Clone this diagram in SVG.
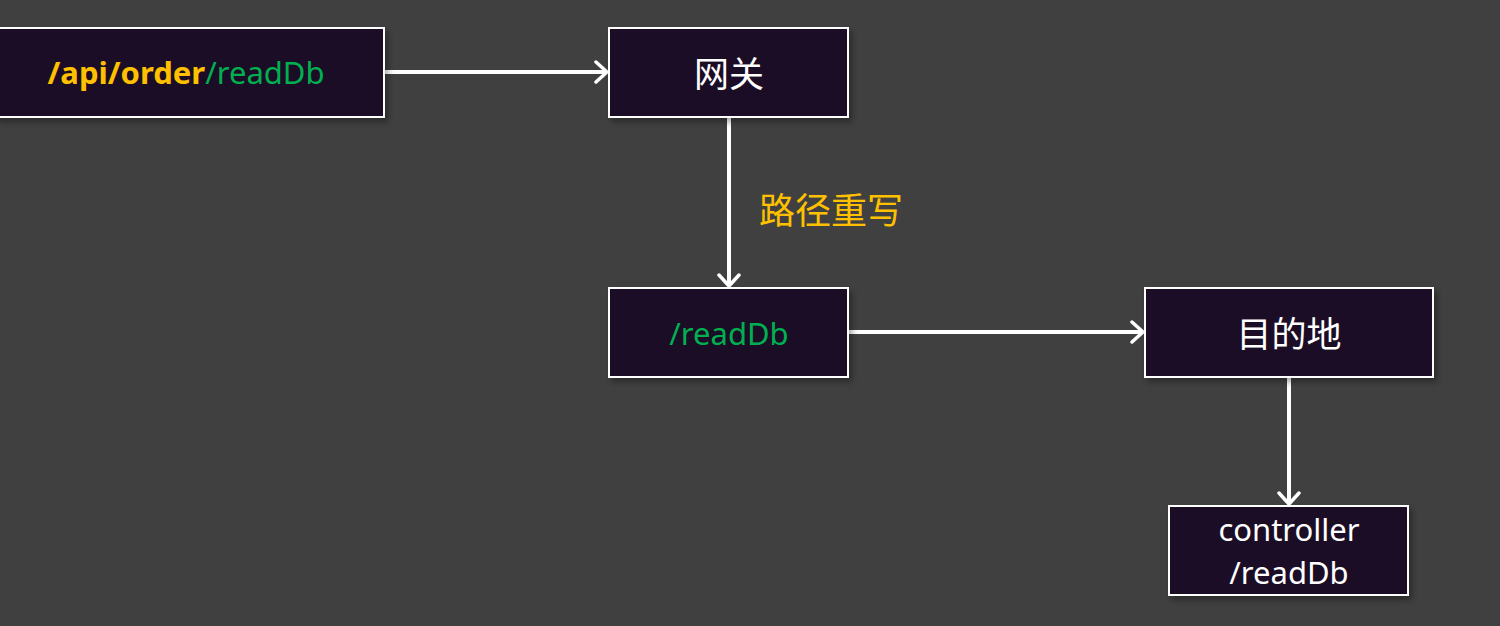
<svg xmlns="http://www.w3.org/2000/svg" width="1500" height="626" viewBox="0 0 1500 626">
<style>
.box{fill:#1e1027;stroke:#ffffff;stroke-width:2;filter:url(#sh)}
.t{font-family:"Noto Sans","Open Sans","Noto Sans CJK SC",sans-serif;font-size:31px;text-anchor:middle;dominant-baseline:central}
.cjk{font-family:"Noto Sans CJK SC",sans-serif;font-size:35px}
.w{fill:#ffffff}
.o{fill:#ffc000}
.g{fill:#00b050}
.c{stroke:#ffffff;stroke-width:4;fill:none;marker-end:url(#ah)}
</style>
<defs>
<filter id="sh" x="-10%" y="-10%" width="130%" height="140%">
<feDropShadow dx="3" dy="4" stdDeviation="3" flood-color="#000" flood-opacity="0.35"/>
</filter>
<marker id="ah" viewBox="0 0 16 24" refX="13" refY="12" markerWidth="16" markerHeight="24" markerUnits="userSpaceOnUse" orient="auto">
<path d="M2,2 L13,12 L2,22" fill="none" stroke="#ffffff" stroke-width="3.5" stroke-linecap="round" stroke-linejoin="round"/>
</marker>
</defs>
<rect width="1500" height="626" fill="#404040"/>
<g id="connectors">
<line class="c" x1="383" y1="72" x2="607" y2="72"/>
<line class="c" x1="729" y1="117" x2="729" y2="286"/>
<line class="c" x1="848" y1="332" x2="1143" y2="332"/>
<line class="c" x1="1289" y1="377" x2="1289" y2="504"/>
<text class="t o cjk" x="831" y="208" style="font-size:36px">路径重写</text>
</g>
<g id="n1">
<rect class="box" x="-4" y="28" width="388" height="89"/>
<text class="t" x="186" y="72"><tspan class="o" font-weight="bold">/api/order</tspan><tspan class="g">/readDb</tspan></text>
</g>
<g id="n2">
<rect class="box" x="609" y="28" width="239" height="89"/>
<text class="t w cjk" x="729" y="71">网关</text>
</g>
<g id="n3">
<rect class="box" x="609" y="288" width="239" height="89"/>
<text class="t g" x="729" y="333">/readDb</text>
</g>
<g id="n4">
<rect class="box" x="1145" y="288" width="288" height="89"/>
<text class="t w cjk" x="1289" y="331">目的地</text>
</g>
<g id="n5">
<rect class="box" x="1169" y="506" width="239" height="89"/>
<text class="t w" x="1289" y="529">controller</text>
<text class="t w" x="1289" y="572">/readDb</text>
</g>
</svg>
